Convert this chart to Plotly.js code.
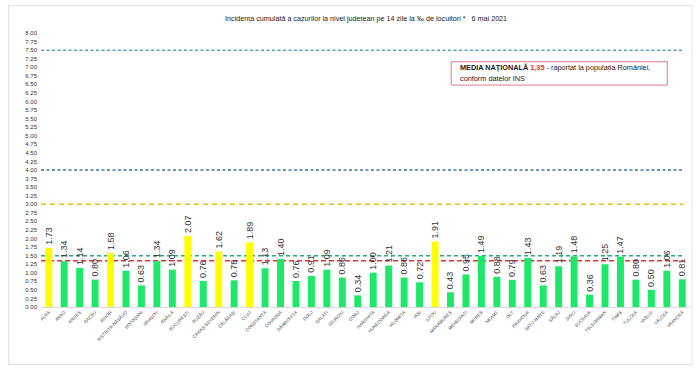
<!DOCTYPE html>
<html>
<head>
<meta charset="utf-8">
<script src="https://cdn.plot.ly/plotly-3.0.1.min.js"></script>
<style>html,body{margin:0;padding:0;background:#fff;}#chart{width:700px;height:383px;}</style>
</head>
<body>
<div id="chart"></div>
<script>
const counties = ["ALBA","ARAD","ARGEȘ","BACĂU","BIHOR","BISTRIȚA-NĂSĂUD","BOTOȘANI","BRAȘOV","BRĂILA","BUCUREȘTI","BUZĂU","CARAȘ-SEVERIN","CĂLĂRAȘI","CLUJ","CONSTANȚA","COVASNA","DÂMBOVIȚA","DOLJ","GALAȚI","GIURGIU","GORJ","HARGHITA","HUNEDOARA","IALOMIȚA","IAȘI","ILFOV","MARAMUREȘ","MEHEDINȚI","MUREȘ","NEAMȚ","OLT","PRAHOVA","SATU MARE","SĂLAJ","SIBIU","SUCEAVA","TELEORMAN","TIMIȘ","TULCEA","VASLUI","VÂLCEA","VRANCEA"];
const incidence = [1.73,1.34,1.14,0.80,1.58,1.06,0.63,1.34,1.09,2.07,0.76,1.62,0.78,1.89,1.13,1.40,0.76,0.91,1.09,0.86,0.34,1.00,1.21,0.86,0.72,1.91,0.43,0.95,1.49,0.88,0.79,1.43,0.63,1.19,1.48,0.36,1.25,1.47,0.80,0.50,1.06,0.81];
const thresholds = [7.5, 4.0, 3.0, 1.5];
const thresholdColors = ["#4fa3c7","#3d74a8","#e2c21a","#2fa585"];
const thresholdDash = ["3px,2.5px","3px,2.5px","5px,4px","4px,3px"];
const nationalMean = 1.35;
const yTicks = [0,0.25,0.5,0.75,1,1.25,1.5,1.75,2,2.25,2.5,2.75,3,3.25,3.5,3.75,4,4.25,4.5,4.75,5,5.25,5.5,5.75,6,6.25,6.5,6.75,7,7.25,7.5,7.75,8];

const FONT = "Liberation Sans, Arial, sans-serif";
const colors = incidence.map(v => v > 1.5 ? "#ffff00" : "#1ee86a");

const shapes = [{type:"rect", xref:"paper", yref:"paper", x0:-0.05, x1:1.003, y0:-0.21, y1:1.10,
  line:{color:"#e2e2e2", width:1}, layer:"below"}];
thresholds.forEach((t,i) => shapes.push({type:"line", xref:"paper", yref:"y", x0:0, x1:0.99, y0:t, y1:t, layer:"below",
  line:{color:thresholdColors[i], width:1.5, dash:thresholdDash[i]}}));
shapes.push({type:"line", xref:"paper", yref:"y", x0:0, x1:0.99, y0:nationalMean, y1:nationalMean, layer:"below",
  line:{color:"#e8302e", width:1.6, dash:"5px,3px"}});
shapes.push({type:"rect", xref:"paper", yref:"paper", x0:0.632, x1:0.965, y0:0.81, y1:0.895,
  line:{color:"#e07a8a", width:1}, fillcolor:"#ffffff"});

const trace = {
  type:"bar", x:counties, y:incidence,
  marker:{color:colors},
  text:incidence.map(v => v.toFixed(2)),
  textposition:"outside", textangle:-90, constraintext:"none",
  textfont:{family:FONT, size:9, color:"#333"},
  cliponaxis:false,
  hoverinfo:"x+y"
};

const layout = {
  width:700, height:383,
  margin:{l:41, r:10, t:33, b:76},
  paper_bgcolor:"#ffffff", plot_bgcolor:"#ffffff",
  showlegend:false,
  bargap:0.55,
  title:{text:"Incidența cumulată a cazurilor la nivel județean pe 14 zile la ‰ de locuitori *   6 mai 2021",
    font:{family:FONT, size:7.2, color:"#222"}, x:0.523, xanchor:"center", y:0.953, yanchor:"middle"},
  xaxis:{type:"category", tickangle:-45, tickfont:{family:FONT, size:4.5, color:"#444"},
    showline:true, linecolor:"#d9d9d9", linewidth:1, ticks:"", range:[-0.5,41.5], automargin:false},
  yaxis:{range:[0,8], tickvals:yTicks, ticktext:yTicks.map(v=>v.toFixed(2)), showgrid:false, zeroline:false,
    tickfont:{family:FONT, size:6, color:"#333"}, ticks:"", automargin:false, ticklabelstandoff:3},
  shapes:shapes,
  annotations:[
    {xref:"paper", yref:"paper", x:0.642, y:0.875, xanchor:"left", yanchor:"middle", showarrow:false, align:"left",
     text:"<b>MEDIA NAȚIONALĂ</b> <b><span style='color:#e8302e'>1,35</span></b> - raportat la populația României,",
     font:{family:FONT, size:7.3, color:"#222"}},
    {xref:"paper", yref:"paper", x:0.642, y:0.833, xanchor:"left", yanchor:"middle", showarrow:false, align:"left",
     text:"conform datelor INS",
     font:{family:FONT, size:7.3, color:"#222"}}
  ]
};

Plotly.newPlot("chart", [trace], layout, {displayModeBar:false, staticPlot:true});
</script>
</body>
</html>
